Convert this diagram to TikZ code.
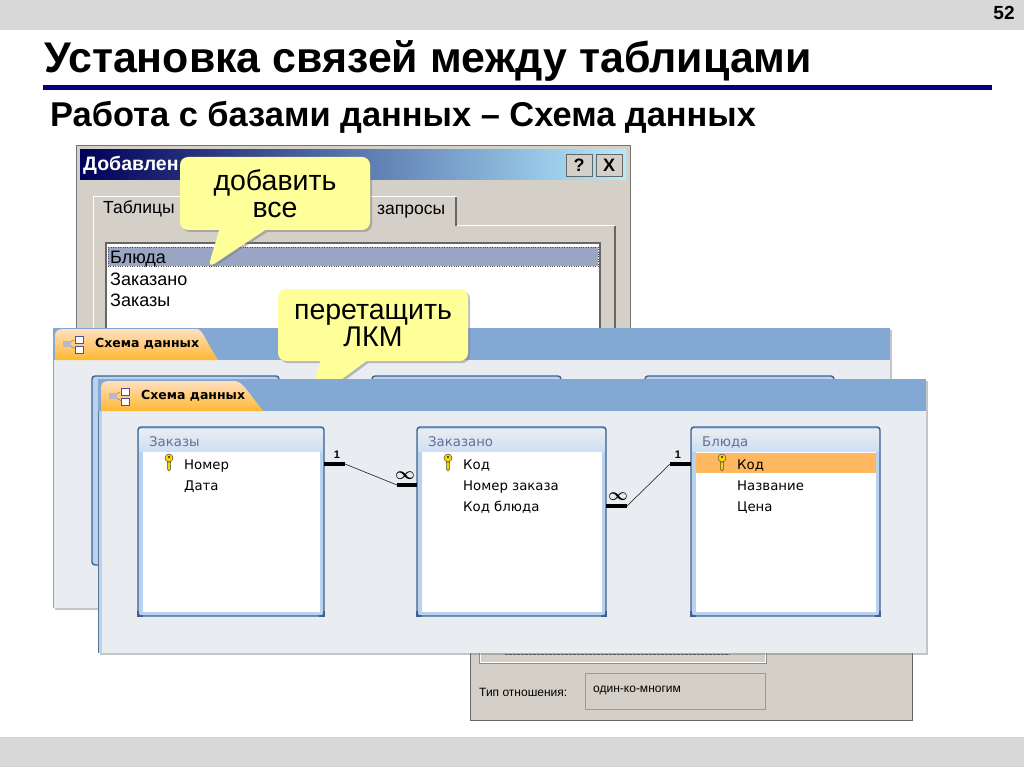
\documentclass[tikz,border=0pt]{standalone}
\usepackage{fontspec}
\setmainfont{Liberation Sans}
\newfontfamily\uifont{DejaVu Sans}
\usetikzlibrary{shapes.callouts,shadows}
\definecolor{barGray}{HTML}{D8D8D8}
\definecolor{titleBlue}{HTML}{000080}
\definecolor{dlgGray}{HTML}{D4D0C8}
\definecolor{hintYellow}{HTML}{FFFF99}
\definecolor{winBlue}{HTML}{84A8D4}
\definecolor{winBody}{HTML}{E9EDF1}
\definecolor{tblEdge}{HTML}{3F6291}
\definecolor{tblBand}{HTML}{B9D2F0}
\definecolor{rowOrange}{HTML}{FFB760}
\definecolor{rowSelect}{HTML}{9AA6C4}
\tikzset{
    sharpbox/.style={inner sep=0pt,outer sep=0pt},
    schemawin/.style={sharpbox,fill=winBody,drop shadow={shadow xshift=2pt,shadow yshift=-2pt,opacity=.45}},
    winhead/.style={sharpbox,fill=winBlue},
    wintab/.style={top color=orange!25!white,bottom color=orange!70!yellow!80!white,draw=none},
    tabtext/.style={font=\uifont\bfseries\fontsize{12.5}{14}\selectfont,inner sep=0pt,anchor=west},
    dbtable/.style={sharpbox,draw=tblEdge,line width=1.4pt,fill=tblBand,rounded corners=3pt},
    dbhead/.style={sharpbox,top color=winBody,bottom color=tblBand!70!white},
    dblist/.style={sharpbox,fill=white},
    dbtitle/.style={font=\uifont\fontsize{13.3}{14}\selectfont,text=gray!85!blue,inner sep=0pt,anchor=base west,yshift=-5pt},
    dbfield/.style={font=\uifont\fontsize{13.3}{14}\selectfont,inner sep=0pt,anchor=base west,yshift=-5pt},
    listitem/.style={font=\fontsize{18}{18}\selectfont,inner sep=0pt,anchor=base west,yshift=-6pt},
    dlgtext/.style={font=\fontsize{12}{14}\selectfont,inner sep=0pt,anchor=west},
    hintbox/.style={rectangle callout,fill=hintYellow,rounded corners=8pt,inner sep=0pt,align=center,
        font=\fontsize{28.5}{27}\selectfont,minimum width=190pt,callout pointer width=46pt,
        drop shadow={shadow xshift=2pt,shadow yshift=-2pt,opacity=.5}},
    stub/.style={line width=3.2pt},
    relline/.style={line width=.7pt,draw=black!80},
    relone/.style={font=\bfseries\fontsize{11}{11}\selectfont,inner sep=0pt},
    relmany/.style={font=\fontsize{17}{17}\selectfont,inner sep=0pt},
}
% key of a primary field
\newcommand{\keyicon}[2]{
    \draw[draw=black!70,fill=yellow!70!orange,line width=.5pt] (#1-1.6,#2+1) -- (#1+1.6,#2+1) -- (#1+1.6,#2+8) -- (#1,#2+10) -- (#1-1.6,#2+8) -- cycle;
    \draw[draw=black!70,fill=yellow!70!orange,line width=.5pt] (#1,#2-3) circle (4pt);
    \fill[black!70] (#1-1,#2-5) rectangle (#1+1,#2-3.5);
}
% three small boxes of the tab
\newcommand{\schemaicon}[2]{
    \draw[draw=black!50,line width=.5pt] (#1+3,#2+9) -- (#1+11,#2+5) -- (#1+3,#2+9) -- (#1+13,#2+14);
    \fill[blue!12!gray!50!white] (#1,#2+6) rectangle (#1+8,#2+12);
    \fill[white,draw=blue!40!gray,line width=.4pt] (#1+12,#2+1) rectangle (#1+20,#2+8);
    \fill[white,draw=blue!40!gray,line width=.4pt] (#1+12,#2+11) rectangle (#1+20,#2+18);
}
% tables have square lower corners
\newcommand{\sharpbottom}[1]{
    \draw[tblEdge,line width=1.4pt] ([yshift=5pt]#1.south west) |- ([xshift=5pt]#1.south west);
    \draw[tblEdge,line width=1.4pt] ([yshift=5pt]#1.south east) |- ([xshift=-5pt]#1.south east);
}
\begin{document}
\begin{tikzpicture}[x=1pt,y=-1pt]
    \useasboundingbox (0,0) rectangle (1024,767);
    \fill[white] (0,0) rectangle (1024,767);

    % slide frame
    \node[sharpbox,fill=barGray,minimum width=1024pt,minimum height=30pt] (topbar) at (512,15) {};
    \node[sharpbox,fill=barGray,minimum width=1024pt,minimum height=30pt] (bottombar) at (512,752) {};
    \node[inner sep=0pt,font=\bfseries\fontsize{19}{19}\selectfont] (pagenum) at (1004,13) {52};
    \node[inner sep=0pt,anchor=west,font=\bfseries\fontsize{42.9}{43}\selectfont] (title) at (44,61) {Установка связей между таблицами};
    \fill[titleBlue] (43,85) rectangle (992,90);
    \node[inner sep=0pt,anchor=west,font=\bfseries\fontsize{34.4}{35}\selectfont] (subtitle) at (50,117) {Работа с базами данных – Схема данных};

    % dialog with the relation type, mostly hidden
    \node[sharpbox,fill=dlgGray,draw=black!60,line width=1pt,minimum width=442pt,minimum height=120pt] (reldlg) at (691,660) {};
    \draw[white,line width=1pt] (480,640) -- (480,662) -- (765,662) -- (765,640);
    \draw[black!45,line width=.7pt] (479,640) -- (479,663) -- (766,663) -- (766,640);
    \draw[black!75,line width=1pt,dash pattern=on 3pt off 1pt] (505,654.5) -- (730,654.5);
    \node[dlgtext] (reltypelabel) at (479,692) {Тип отношения:};
    \node[sharpbox,fill=dlgGray,draw=black!40,line width=.8pt,minimum width=180pt,minimum height=36pt] (reltypebox) at (675,691) {};
    \node[dlgtext] (reltypeval) at (593,690) {один-ко-многим};

    % dialog for adding tables
    \node[sharpbox,fill=dlgGray,draw=black!55,line width=1pt,minimum width=554pt,minimum height=190pt] (adddlg) at (353,241) {};
    \node[sharpbox,minimum width=546pt,minimum height=30pt,left color=titleBlue!70!black,right color=blue!25!cyan!30!white] (addhead) at (353,165) {};
    \node[inner sep=0pt,anchor=west,text=white,font=\bfseries\fontsize{19.5}{20}\selectfont] (addtitle) at (83,165) {Добавлен};
    \node[sharpbox,fill=dlgGray,draw=black!60,line width=.8pt,minimum width=26pt,minimum height=22pt,font=\bfseries\fontsize{18}{18}\selectfont] (helpbtn) at (579,165) {?};
    \node[sharpbox,fill=dlgGray,draw=black!60,line width=.8pt,minimum width=26pt,minimum height=22pt,font=\bfseries\fontsize{18}{18}\selectfont] (closebtn) at (609,165) {X};
    \draw[white,line width=1pt,fill=dlgGray] (93,330) -- (93,197) -- (456,197) -- (456,226);
    \draw[white,line width=1pt] (93,226) -- (93,330);
    \draw[white,line width=1pt] (456,226) -- (615,226);
    \draw[black!60,line width=1.2pt] (456,197) -- (456,226);
    \draw[black!60,line width=1.2pt] (615,226) -- (615,330);
    \node[dlgtext,font=\fontsize{17.5}{18}\selectfont] (tabtables) at (103,209) {Таблицы};
    \node[dlgtext,font=\fontsize{17.5}{18}\selectfont] (tabqueries) at (377,212) {запросы};
    \node[sharpbox,fill=white,draw=black!60,line width=1.5pt,minimum width=494pt,minimum height=90pt] (tablelist) at (353,288) {};
    \node[sharpbox,fill=rowSelect,draw=black!70,dotted,minimum width=490pt,minimum height=19pt] (rowdishes) at (353,256.5) {};
    \node[listitem] (itemdishes) at (110,257) {Блюда};
    \node[listitem] (itemordered) at (110,279) {Заказано};
    \node[listitem] (itemorders) at (110,300) {Заказы};
    \node[hintbox,minimum height=73pt,callout absolute pointer={(208,268)}] (hintadd) at (275,193.5) {добавить\\все};

    % back window
    \node[schemawin,minimum width=837pt,minimum height=280pt] (backwin) at (471.5,468) {};
    \draw[winBlue,line width=1.2pt] (53.5,328) -- (53.5,608);
    \node[winhead,minimum width=837pt,minimum height=32pt] (backhead) at (471.5,344) {};
    \path[wintab] (55,360) -- (55,336) .. controls (55,331) and (58,329) .. (63,329) -- (197,329) .. controls (203,330) and (205,340) .. (218,360) -- cycle;
    \schemaicon{63}{335}
    \node[tabtext] (backtabtext) at (95,344) {Схема данных};
    \node[dbtable,minimum width=187pt,minimum height=189pt] (backorders) at (185.5,470.5) {};
    \node[dbtable,minimum width=189pt,minimum height=100pt] (backordered) at (466.5,426) {};
    \node[dbtable,minimum width=189pt,minimum height=100pt] (backdishes) at (739.5,426) {};
    \node[hintbox,minimum height=72pt,callout absolute pointer={(308,404)}] (hintdrag) at (373,325) {перетащить\\ЛКМ};

    % front window
    \node[schemawin,minimum width=828pt,minimum height=274pt] (frontwin) at (512,516) {};
    \fill[tblBand] (98,411) rectangle (102,653);
    \draw[winBlue!70!black,line width=1pt] (98.5,379) -- (98.5,653);
    \node[winhead,minimum width=828pt,minimum height=32pt] (fronthead) at (512,395) {};
    \path[wintab] (101,411) -- (101,388) .. controls (101,383) and (104,381) .. (109,381) -- (235,381) .. controls (243,382) and (248,392) .. (263,411) -- cycle;
    \schemaicon{109}{387}
    \node[tabtext] (fronttabtext) at (141,396) {Схема данных};

    % tables
    \node[dbtable,minimum width=186pt,minimum height=189pt] (orders) at (231,521.5) {};
    \sharpbottom{orders}
    \node[dbhead,minimum width=183pt,minimum height=22pt] (ordershead) at (231,440) {};
    \node[dblist,minimum width=177pt,minimum height=160pt] (orderslist) at (231.5,532) {};
    \node[dbtitle] (orderstitle) at (149,441) {Заказы};
    \keyicon{169}{461}
    \node[dbfield] (ordersid) at (184,464) {Номер};
    \node[dbfield] (ordersdate) at (184,485) {Дата};

    \node[dbtable,minimum width=189pt,minimum height=189pt] (ordered) at (511.5,521.5) {};
    \sharpbottom{ordered}
    \node[dbhead,minimum width=186pt,minimum height=22pt] (orderedhead) at (511.5,440) {};
    \node[dblist,minimum width=180pt,minimum height=160pt] (orderedlist) at (512,532) {};
    \node[dbtitle] (orderedtitle) at (428,441) {Заказано};
    \keyicon{448}{461}
    \node[dbfield] (orderedid) at (463,464) {Код};
    \node[dbfield] (orderednum) at (463,485) {Номер заказа};
    \node[dbfield] (ordereddish) at (463,506) {Код блюда};

    \node[dbtable,minimum width=189pt,minimum height=189pt] (dishes) at (785.5,521.5) {};
    \sharpbottom{dishes}
    \node[dbhead,minimum width=186pt,minimum height=22pt] (disheshead) at (785.5,440) {};
    \node[dblist,minimum width=180pt,minimum height=160pt] (disheslist) at (786,532) {};
    \node[sharpbox,fill=rowOrange,minimum width=180pt,minimum height=20pt] (dishesrow) at (786,463) {};
    \node[dbtitle] (dishestitle) at (702,441) {Блюда};
    \keyicon{722}{461}
    \node[dbfield] (dishesid) at (737,464) {Код};
    \node[dbfield] (dishesname) at (737,485) {Название};
    \node[dbfield] (dishesprice) at (737,506) {Цена};

    % relations
    \coordinate (ordersout) at (324,464);
    \coordinate (ordersstub) at (345,464);
    \coordinate (orderedinstub) at (397,485);
    \coordinate (orderedin) at (417,485);
    \draw[stub] (ordersout) -- (ordersstub);
    \draw[relline] (ordersstub) -- (orderedinstub);
    \draw[stub] (orderedinstub) -- (orderedin);
    \node[relone] (markone) at (337,455) {1};
    \node[relmany] (markmany) at (405,476) {{\boldmath$\infty$}};

    \coordinate (orderedout) at (606,506);
    \coordinate (orderedoutstub) at (627,506);
    \coordinate (dishesstub) at (670,464);
    \coordinate (dishesin) at (691,464);
    \draw[stub] (orderedout) -- (orderedoutstub);
    \draw[relline] (orderedoutstub) -- (dishesstub);
    \draw[stub] (dishesstub) -- (dishesin);
    \node[relmany] (markmanytwo) at (618,497) {{\boldmath$\infty$}};
    \node[relone] (markonetwo) at (678,455) {1};
\end{tikzpicture}
\end{document}
